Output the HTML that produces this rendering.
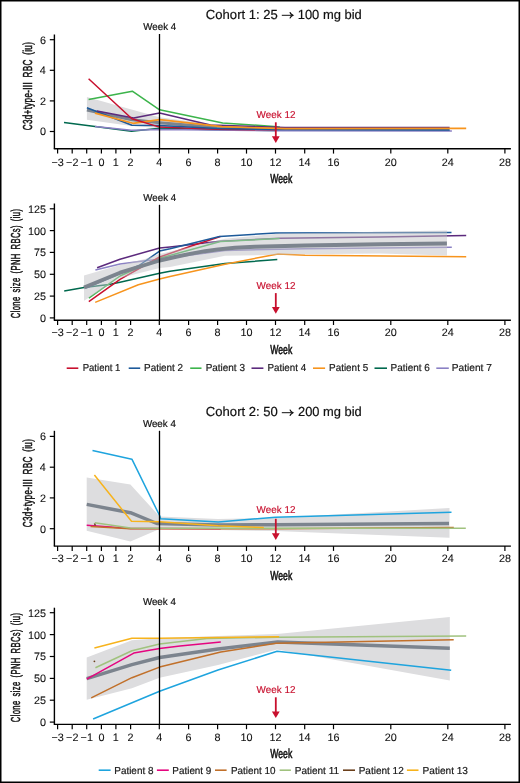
<!DOCTYPE html><html><head><meta charset="utf-8"><style>html,body{margin:0;padding:0;background:#fff;}svg{display:block;will-change:transform;}</style></head><body>
<svg width="520" height="783" viewBox="0 0 520 783" font-family='"Liberation Sans", sans-serif' text-rendering="geometricPrecision">
<rect x="0" y="0" width="520" height="783" fill="#fff"/>
<rect x="0.75" y="0.75" width="518.5" height="781.5" fill="none" stroke="#000" stroke-width="1.5"/>
<text transform="translate(205.86,18.60) scale(0.9923,1)" font-size="13.2" stroke="#111" stroke-width="0.2" fill="#111">Cohort 1: 25</text>
<line x1="281.8" y1="15.3" x2="293" y2="15.3" stroke="#111" stroke-width="1.0"/>
<path d="M289.9,12.200000000000001 Q290.6,14.100000000000001 292.9,15.3 Q290.6,16.5 289.9,18.400000000000002" fill="none" stroke="#111" stroke-width="1.25" stroke-linejoin="miter"/>
<text transform="translate(297.72,18.60) scale(0.9811,1)" font-size="13.2" stroke="#111" stroke-width="0.2" fill="#111">100 mg bid</text>
<polygon points="86.9,97.1 131.5,109.5 159.5,117.3 217.0,125.0 275.0,127.5 449.0,128.2 449.0,131.2 275.0,131.0 217.0,130.0 159.5,128.0 131.5,126.0 86.9,119.8" fill="#dddddf" fill-opacity="1" stroke="none"/>
<polyline points="86.9,110.0 132.0,119.8 159.6,122.7 217.0,127.5 275.0,129.2 449.0,129.6" fill="none" stroke="#7c848e" stroke-width="3.0" stroke-linejoin="round" stroke-linecap="butt" opacity="1"/>
<polyline points="64.0,122.5 95.0,126.5 131.5,131.3 159.6,128.2 217.0,129.8 275.0,130.6" fill="none" stroke="#00694e" stroke-width="1.5" stroke-linejoin="round" stroke-linecap="butt" opacity="1"/>
<polyline points="95.0,126.5 131.5,130.2 159.6,129.6 275.0,130.8 451.9,131.1" fill="none" stroke="#8a80c4" stroke-width="1.5" stroke-linejoin="round" stroke-linecap="butt" opacity="1"/>
<polyline points="159.6,127.1 217.0,129.3 275.0,129.8" fill="none" stroke="#c8102e" stroke-width="1.5" stroke-linejoin="round" stroke-linecap="butt" opacity="1"/>
<polyline points="86.9,107.8 131.9,125.2 159.6,125.6 217.0,128.6 275.0,129.6 449.8,129.9" fill="none" stroke="#1d5a9a" stroke-width="1.5" stroke-linejoin="round" stroke-linecap="butt" opacity="1"/>
<polyline points="88.6,99.4 132.3,91.2 159.6,109.8 222.7,122.9 274.2,126.5 280.0,127.2" fill="none" stroke="#3cb44b" stroke-width="1.5" stroke-linejoin="round" stroke-linecap="butt" opacity="1"/>
<polyline points="96.9,111.0 133.6,118.1 159.6,112.9 210.4,125.0 285.0,127.6 449.6,127.6" fill="none" stroke="#5c2a7d" stroke-width="1.5" stroke-linejoin="round" stroke-linecap="butt" opacity="1"/>
<polyline points="95.0,113.1 133.0,123.3 159.6,119.6 222.0,126.6 285.0,128.7 466.2,128.3" fill="none" stroke="#f7941d" stroke-width="1.7" stroke-linejoin="round" stroke-linecap="butt" opacity="1"/>
<polyline points="88.6,78.8 131.9,118.7 159.6,127.1" fill="none" stroke="#c8102e" stroke-width="1.5" stroke-linejoin="round" stroke-linecap="butt" opacity="1"/>
<line x1="54.4" y1="34.5" x2="54.4" y2="148.8" stroke="#000" stroke-width="1.4"/>
<line x1="49.8" y1="39.7" x2="54.4" y2="39.7" stroke="#000" stroke-width="1.2"/>
<text transform="translate(39.90,43.60) scale(1.0000,1)" font-size="10.8" stroke="#111" stroke-width="0.1" fill="#111">6</text>
<line x1="49.8" y1="70.3" x2="54.4" y2="70.3" stroke="#000" stroke-width="1.2"/>
<text transform="translate(39.65,74.20) scale(1.0000,1)" font-size="10.8" stroke="#111" stroke-width="0.1" fill="#111">4</text>
<line x1="49.8" y1="100.9" x2="54.4" y2="100.9" stroke="#000" stroke-width="1.2"/>
<text transform="translate(39.90,104.80) scale(1.0000,1)" font-size="10.8" stroke="#111" stroke-width="0.1" fill="#111">2</text>
<line x1="49.8" y1="131.5" x2="54.4" y2="131.5" stroke="#000" stroke-width="1.2"/>
<text transform="translate(39.90,135.40) scale(1.0000,1)" font-size="10.8" stroke="#111" stroke-width="0.1" fill="#111">0</text>
<text transform="translate(32.10,130.27) rotate(-90) scale(0.6251,1)" font-size="13" stroke="#111" stroke-width="0.5" letter-spacing="0.5" word-spacing="3.2" fill="#111">C3d+type-III RBC (iu)</text>
<line x1="53.8" y1="148.8" x2="510.9" y2="148.8" stroke="#000" stroke-width="1.4"/>
<line x1="57.6" y1="148.8" x2="57.6" y2="153.60000000000002" stroke="#000" stroke-width="1.2"/>
<text transform="translate(51.48,165.50) scale(1.0000,1)" font-size="10.8" stroke="#111" stroke-width="0.1" fill="#111">&#8722;3</text>
<line x1="72.2" y1="148.8" x2="72.2" y2="153.60000000000002" stroke="#000" stroke-width="1.2"/>
<text transform="translate(66.08,165.50) scale(1.0000,1)" font-size="10.8" stroke="#111" stroke-width="0.1" fill="#111">&#8722;2</text>
<line x1="86.7" y1="148.8" x2="86.7" y2="153.60000000000002" stroke="#000" stroke-width="1.2"/>
<text transform="translate(80.58,165.50) scale(1.0000,1)" font-size="10.8" stroke="#111" stroke-width="0.1" fill="#111">&#8722;1</text>
<line x1="101.4" y1="148.8" x2="101.4" y2="153.60000000000002" stroke="#000" stroke-width="1.2"/>
<text transform="translate(98.40,165.50) scale(1.0000,1)" font-size="10.8" stroke="#111" stroke-width="0.1" fill="#111">0</text>
<line x1="115.9" y1="148.8" x2="115.9" y2="153.60000000000002" stroke="#000" stroke-width="1.2"/>
<text transform="translate(112.78,165.50) scale(1.0000,1)" font-size="10.8" stroke="#111" stroke-width="0.1" fill="#111">1</text>
<line x1="130.6" y1="148.8" x2="130.6" y2="153.60000000000002" stroke="#000" stroke-width="1.2"/>
<text transform="translate(127.60,165.50) scale(1.0000,1)" font-size="10.8" stroke="#111" stroke-width="0.1" fill="#111">2</text>
<line x1="159.3" y1="148.8" x2="159.3" y2="153.60000000000002" stroke="#000" stroke-width="1.2"/>
<text transform="translate(156.30,165.50) scale(1.0000,1)" font-size="10.8" stroke="#111" stroke-width="0.1" fill="#111">4</text>
<line x1="188.6" y1="148.8" x2="188.6" y2="153.60000000000002" stroke="#000" stroke-width="1.2"/>
<text transform="translate(185.60,165.50) scale(1.0000,1)" font-size="10.8" stroke="#111" stroke-width="0.1" fill="#111">6</text>
<line x1="217.6" y1="148.8" x2="217.6" y2="153.60000000000002" stroke="#000" stroke-width="1.2"/>
<text transform="translate(214.60,165.50) scale(1.0000,1)" font-size="10.8" stroke="#111" stroke-width="0.1" fill="#111">8</text>
<line x1="246.5" y1="148.8" x2="246.5" y2="153.60000000000002" stroke="#000" stroke-width="1.2"/>
<text transform="translate(240.38,165.50) scale(1.0000,1)" font-size="10.8" stroke="#111" stroke-width="0.1" fill="#111">10</text>
<line x1="275.5" y1="148.8" x2="275.5" y2="153.60000000000002" stroke="#000" stroke-width="1.2"/>
<text transform="translate(269.38,165.50) scale(1.0000,1)" font-size="10.8" stroke="#111" stroke-width="0.1" fill="#111">12</text>
<line x1="304.7" y1="148.8" x2="304.7" y2="153.60000000000002" stroke="#000" stroke-width="1.2"/>
<text transform="translate(298.45,165.50) scale(1.0000,1)" font-size="10.8" stroke="#111" stroke-width="0.1" fill="#111">14</text>
<line x1="333.5" y1="148.8" x2="333.5" y2="153.60000000000002" stroke="#000" stroke-width="1.2"/>
<text transform="translate(327.38,165.50) scale(1.0000,1)" font-size="10.8" stroke="#111" stroke-width="0.1" fill="#111">16</text>
<line x1="390.8" y1="148.8" x2="390.8" y2="153.60000000000002" stroke="#000" stroke-width="1.2"/>
<text transform="translate(384.80,165.50) scale(1.0000,1)" font-size="10.8" stroke="#111" stroke-width="0.1" fill="#111">20</text>
<line x1="447.8" y1="148.8" x2="447.8" y2="153.60000000000002" stroke="#000" stroke-width="1.2"/>
<text transform="translate(441.68,165.50) scale(1.0000,1)" font-size="10.8" stroke="#111" stroke-width="0.1" fill="#111">24</text>
<line x1="504.9" y1="148.8" x2="504.9" y2="153.60000000000002" stroke="#000" stroke-width="1.2"/>
<text transform="translate(498.90,165.50) scale(1.0000,1)" font-size="10.8" stroke="#111" stroke-width="0.1" fill="#111">28</text>
<text transform="translate(270.33,183.30) scale(0.6626,1)" font-size="13" stroke="#111" stroke-width="0.6" fill="#111">Week</text>
<text transform="translate(143.30,30.30) scale(0.9731,1)" font-size="10" stroke="#111" stroke-width="0.2" fill="#111">Week 4</text>
<line x1="159.5" y1="34" x2="159.5" y2="148.8" stroke="#000" stroke-width="1.3"/>
<text transform="translate(256.60,117.70) scale(0.9884,1)" font-size="10" stroke="#c8102e" stroke-width="0.15" fill="#c8102e">Week 12</text>
<line x1="275.8" y1="122.3" x2="275.8" y2="137.2" stroke="#c8102e" stroke-width="1.8"/>
<polygon points="271.90000000000003,136.2 279.7,136.2 275.8,143.1" fill="#c8102e"/>
<polyline points="64.2,291.0 84.0,287.6 109.0,284.6 120.0,282.3 159.6,273.2 170.0,271.3 225.0,263.5 277.3,259.6" fill="none" stroke="#00694e" stroke-width="1.5" stroke-linejoin="round" stroke-linecap="butt" opacity="1"/>
<polyline points="95.2,302.4 138.3,284.7 159.6,279.0 170.0,276.5 225.0,264.2 278.1,253.9 305.0,255.3 466.2,256.8" fill="none" stroke="#f7941d" stroke-width="1.5" stroke-linejoin="round" stroke-linecap="butt" opacity="1"/>
<polyline points="95.4,270.0 120.0,264.0 145.0,260.7 159.6,259.3 225.0,250.4 305.0,248.8 451.8,247.3" fill="none" stroke="#8a80c4" stroke-width="1.5" stroke-linejoin="round" stroke-linecap="butt" opacity="1"/>
<polyline points="97.1,267.8 120.0,259.2 159.6,248.0 170.0,246.9 220.0,241.3 279.6,238.3 380.0,236.9 466.2,235.5" fill="none" stroke="#5c2a7d" stroke-width="1.5" stroke-linejoin="round" stroke-linecap="butt" opacity="1"/>
<polyline points="88.8,298.1 120.0,276.0 159.6,258.3 220.4,241.5 279.6,238.5" fill="none" stroke="#3cb44b" stroke-width="1.5" stroke-linejoin="round" stroke-linecap="butt" opacity="1"/>
<polyline points="88.8,301.7 120.0,279.4 159.6,257.0 190.0,246.5 220.4,236.5" fill="none" stroke="#c8102e" stroke-width="1.5" stroke-linejoin="round" stroke-linecap="butt" opacity="1"/>
<polyline points="86.0,288.0 139.0,265.5 159.6,251.1 170.0,248.8 219.6,236.5 275.8,233.0 451.5,232.5" fill="none" stroke="#1d5a9a" stroke-width="1.5" stroke-linejoin="round" stroke-linecap="butt" opacity="1"/>
<polygon points="84.0,275.5 120.0,265.0 145.0,259.0 159.6,254.0 225.0,238.8 280.0,233.6 447.0,230.6 447.0,255.5 380.0,253.5 305.0,254.2 225.0,255.8 170.0,266.9 159.6,267.9 120.0,278.0 84.0,300.8" fill="#c2c2c6" fill-opacity="0.5" stroke="none"/>
<polyline points="84.0,287.5 120.0,272.7 159.6,260.5 175.0,257.0 190.0,253.8 205.0,251.2 218.0,249.4 235.0,247.8 255.0,246.8 275.0,246.2 305.0,245.5 380.0,244.3 446.9,243.5" fill="none" stroke="#7c848e" stroke-width="3.9" stroke-linejoin="round" stroke-linecap="butt" opacity="1"/>
<line x1="54.4" y1="203.5" x2="54.4" y2="320.2" stroke="#000" stroke-width="1.4"/>
<line x1="49.8" y1="208.8" x2="54.4" y2="208.8" stroke="#000" stroke-width="1.2"/>
<text transform="translate(27.90,212.71) scale(1.0000,1)" font-size="10.8" stroke="#111" stroke-width="0.1" fill="#111">125</text>
<line x1="49.8" y1="230.6" x2="54.4" y2="230.6" stroke="#000" stroke-width="1.2"/>
<text transform="translate(27.90,234.53) scale(1.0000,1)" font-size="10.8" stroke="#111" stroke-width="0.1" fill="#111">100</text>
<line x1="49.8" y1="252.4" x2="54.4" y2="252.4" stroke="#000" stroke-width="1.2"/>
<text transform="translate(33.90,256.35) scale(1.0000,1)" font-size="10.8" stroke="#111" stroke-width="0.1" fill="#111">75</text>
<line x1="49.8" y1="274.3" x2="54.4" y2="274.3" stroke="#000" stroke-width="1.2"/>
<text transform="translate(33.90,278.16) scale(1.0000,1)" font-size="10.8" stroke="#111" stroke-width="0.1" fill="#111">50</text>
<line x1="49.8" y1="296.1" x2="54.4" y2="296.1" stroke="#000" stroke-width="1.2"/>
<text transform="translate(33.90,299.98) scale(1.0000,1)" font-size="10.8" stroke="#111" stroke-width="0.1" fill="#111">25</text>
<line x1="49.8" y1="317.9" x2="54.4" y2="317.9" stroke="#000" stroke-width="1.2"/>
<text transform="translate(39.90,321.80) scale(1.0000,1)" font-size="10.8" stroke="#111" stroke-width="0.1" fill="#111">0</text>
<text transform="translate(19.80,318.14) rotate(-90) scale(0.5872,1)" font-size="13" stroke="#111" stroke-width="0.5" letter-spacing="0.6" word-spacing="2.6" fill="#111">Clone size (PNH RBCs) (iu)</text>
<line x1="53.8" y1="320.2" x2="510.9" y2="320.2" stroke="#000" stroke-width="1.4"/>
<line x1="57.6" y1="320.2" x2="57.6" y2="325.0" stroke="#000" stroke-width="1.2"/>
<text transform="translate(51.48,336.30) scale(1.0000,1)" font-size="10.8" stroke="#111" stroke-width="0.1" fill="#111">&#8722;3</text>
<line x1="72.2" y1="320.2" x2="72.2" y2="325.0" stroke="#000" stroke-width="1.2"/>
<text transform="translate(66.08,336.30) scale(1.0000,1)" font-size="10.8" stroke="#111" stroke-width="0.1" fill="#111">&#8722;2</text>
<line x1="86.7" y1="320.2" x2="86.7" y2="325.0" stroke="#000" stroke-width="1.2"/>
<text transform="translate(80.58,336.30) scale(1.0000,1)" font-size="10.8" stroke="#111" stroke-width="0.1" fill="#111">&#8722;1</text>
<line x1="101.4" y1="320.2" x2="101.4" y2="325.0" stroke="#000" stroke-width="1.2"/>
<text transform="translate(98.40,336.30) scale(1.0000,1)" font-size="10.8" stroke="#111" stroke-width="0.1" fill="#111">0</text>
<line x1="115.9" y1="320.2" x2="115.9" y2="325.0" stroke="#000" stroke-width="1.2"/>
<text transform="translate(112.78,336.30) scale(1.0000,1)" font-size="10.8" stroke="#111" stroke-width="0.1" fill="#111">1</text>
<line x1="130.6" y1="320.2" x2="130.6" y2="325.0" stroke="#000" stroke-width="1.2"/>
<text transform="translate(127.60,336.30) scale(1.0000,1)" font-size="10.8" stroke="#111" stroke-width="0.1" fill="#111">2</text>
<line x1="159.3" y1="320.2" x2="159.3" y2="325.0" stroke="#000" stroke-width="1.2"/>
<text transform="translate(156.30,336.30) scale(1.0000,1)" font-size="10.8" stroke="#111" stroke-width="0.1" fill="#111">4</text>
<line x1="188.6" y1="320.2" x2="188.6" y2="325.0" stroke="#000" stroke-width="1.2"/>
<text transform="translate(185.60,336.30) scale(1.0000,1)" font-size="10.8" stroke="#111" stroke-width="0.1" fill="#111">6</text>
<line x1="217.6" y1="320.2" x2="217.6" y2="325.0" stroke="#000" stroke-width="1.2"/>
<text transform="translate(214.60,336.30) scale(1.0000,1)" font-size="10.8" stroke="#111" stroke-width="0.1" fill="#111">8</text>
<line x1="246.5" y1="320.2" x2="246.5" y2="325.0" stroke="#000" stroke-width="1.2"/>
<text transform="translate(240.38,336.30) scale(1.0000,1)" font-size="10.8" stroke="#111" stroke-width="0.1" fill="#111">10</text>
<line x1="275.5" y1="320.2" x2="275.5" y2="325.0" stroke="#000" stroke-width="1.2"/>
<text transform="translate(269.38,336.30) scale(1.0000,1)" font-size="10.8" stroke="#111" stroke-width="0.1" fill="#111">12</text>
<line x1="304.7" y1="320.2" x2="304.7" y2="325.0" stroke="#000" stroke-width="1.2"/>
<text transform="translate(298.45,336.30) scale(1.0000,1)" font-size="10.8" stroke="#111" stroke-width="0.1" fill="#111">14</text>
<line x1="333.5" y1="320.2" x2="333.5" y2="325.0" stroke="#000" stroke-width="1.2"/>
<text transform="translate(327.38,336.30) scale(1.0000,1)" font-size="10.8" stroke="#111" stroke-width="0.1" fill="#111">16</text>
<line x1="390.8" y1="320.2" x2="390.8" y2="325.0" stroke="#000" stroke-width="1.2"/>
<text transform="translate(384.80,336.30) scale(1.0000,1)" font-size="10.8" stroke="#111" stroke-width="0.1" fill="#111">20</text>
<line x1="447.8" y1="320.2" x2="447.8" y2="325.0" stroke="#000" stroke-width="1.2"/>
<text transform="translate(441.68,336.30) scale(1.0000,1)" font-size="10.8" stroke="#111" stroke-width="0.1" fill="#111">24</text>
<line x1="504.9" y1="320.2" x2="504.9" y2="325.0" stroke="#000" stroke-width="1.2"/>
<text transform="translate(498.90,336.30) scale(1.0000,1)" font-size="10.8" stroke="#111" stroke-width="0.1" fill="#111">28</text>
<text transform="translate(270.33,354.20) scale(0.6626,1)" font-size="13" stroke="#111" stroke-width="0.6" fill="#111">Week</text>
<text transform="translate(143.30,201.20) scale(0.9731,1)" font-size="10" stroke="#111" stroke-width="0.2" fill="#111">Week 4</text>
<line x1="159.5" y1="204.8" x2="159.5" y2="320.2" stroke="#000" stroke-width="1.3"/>
<text transform="translate(256.60,288.80) scale(0.9884,1)" font-size="10" stroke="#c8102e" stroke-width="0.15" fill="#c8102e">Week 12</text>
<line x1="275.8" y1="293.1" x2="275.8" y2="307.9" stroke="#c8102e" stroke-width="1.8"/>
<polygon points="271.90000000000003,306.9 279.7,306.9 275.8,313.8" fill="#c8102e"/>
<line x1="66.7" y1="368.2" x2="78.3" y2="368.2" stroke="#c8102e" stroke-width="1.6"/>
<text transform="translate(82.69,371.20) scale(0.9455,1)" font-size="10.1" stroke="#1a1a1a" stroke-width="0.2" fill="#1a1a1a">Patient 1</text>
<line x1="128.7" y1="368.2" x2="140.2" y2="368.2" stroke="#1d5a9a" stroke-width="1.6"/>
<text transform="translate(144.07,371.20) scale(0.9792,1)" font-size="10.1" stroke="#1a1a1a" stroke-width="0.2" fill="#1a1a1a">Patient 2</text>
<line x1="190.2" y1="368.2" x2="201.5" y2="368.2" stroke="#3cb44b" stroke-width="1.6"/>
<text transform="translate(205.66,371.20) scale(0.9858,1)" font-size="10.1" stroke="#1a1a1a" stroke-width="0.2" fill="#1a1a1a">Patient 3</text>
<line x1="251.5" y1="368.2" x2="263.4" y2="368.2" stroke="#5c2a7d" stroke-width="1.6"/>
<text transform="translate(267.47,371.20) scale(0.9703,1)" font-size="10.1" stroke="#1a1a1a" stroke-width="0.2" fill="#1a1a1a">Patient 4</text>
<line x1="313" y1="368.2" x2="325.1" y2="368.2" stroke="#f7941d" stroke-width="1.6"/>
<text transform="translate(329.06,371.20) scale(0.9806,1)" font-size="10.1" stroke="#1a1a1a" stroke-width="0.2" fill="#1a1a1a">Patient 5</text>
<line x1="374.5" y1="368.2" x2="387" y2="368.2" stroke="#00694e" stroke-width="1.6"/>
<text transform="translate(390.56,371.20) scale(0.9858,1)" font-size="10.1" stroke="#1a1a1a" stroke-width="0.2" fill="#1a1a1a">Patient 6</text>
<line x1="436.3" y1="368.2" x2="448.8" y2="368.2" stroke="#8a80c4" stroke-width="1.6"/>
<text transform="translate(451.74,371.20) scale(1.0078,1)" font-size="10.1" stroke="#1a1a1a" stroke-width="0.2" fill="#1a1a1a">Patient 7</text>
<text transform="translate(205.86,416.00) scale(0.9923,1)" font-size="13.2" stroke="#111" stroke-width="0.2" fill="#111">Cohort 2: 50</text>
<line x1="281.8" y1="412.7" x2="293" y2="412.7" stroke="#111" stroke-width="1.0"/>
<path d="M289.9,409.59999999999997 Q290.6,411.5 292.9,412.7 Q290.6,413.9 289.9,415.8" fill="none" stroke="#111" stroke-width="1.25" stroke-linejoin="miter"/>
<text transform="translate(297.97,416.00) scale(0.9773,1)" font-size="13.2" stroke="#111" stroke-width="0.2" fill="#111">200 mg bid</text>
<polygon points="86.7,477.5 130.4,484.6 159.6,516.5 218.0,519.0 275.0,518.0 449.5,508.0 449.5,537.7 275.0,531.0 218.0,530.0 159.6,529.0 130.4,541.5 86.7,530.8" fill="#dddddf" fill-opacity="1" stroke="none"/>
<polyline points="86.7,504.4 130.4,512.7 156.9,523.5 218.0,525.0 275.0,524.8 449.0,523.4" fill="none" stroke="#7c848e" stroke-width="3.5" stroke-linejoin="round" stroke-linecap="butt" opacity="1"/>
<polyline points="86.7,525.2 130.4,528.4 159.6,528.6 220.8,528.7" fill="none" stroke="#e5057f" stroke-width="1.5" stroke-linejoin="round" stroke-linecap="butt" opacity="1"/>
<polyline points="90.6,526.5 130.4,528.7 159.6,528.8 275.0,528.8 453.8,527.6" fill="none" stroke="#c1702a" stroke-width="1.5" stroke-linejoin="round" stroke-linecap="butt" opacity="1"/>
<polyline points="94.8,522.7 130.4,528.1 159.6,528.2 275.0,528.3 465.8,528.2" fill="none" stroke="#a0c27e" stroke-width="1.5" stroke-linejoin="round" stroke-linecap="butt" opacity="1"/>
<polyline points="94.4,523.5 95.5,525.5" fill="none" stroke="#6b3f1b" stroke-width="1.5" stroke-linejoin="round" stroke-linecap="butt" opacity="1"/>
<polyline points="94.4,475.0 131.5,521.3 159.6,521.7 218.0,525.8 263.8,527.5" fill="none" stroke="#f7b31c" stroke-width="1.5" stroke-linejoin="round" stroke-linecap="butt" opacity="1"/>
<polyline points="92.5,450.6 131.9,459.2 159.8,516.0 160.6,518.8 218.3,521.9 275.4,517.3 451.5,512.3" fill="none" stroke="#1ea4de" stroke-width="1.5" stroke-linejoin="round" stroke-linecap="butt" opacity="1"/>
<line x1="54.4" y1="430.8" x2="54.4" y2="546.2" stroke="#000" stroke-width="1.4"/>
<line x1="49.8" y1="436.4" x2="54.4" y2="436.4" stroke="#000" stroke-width="1.2"/>
<text transform="translate(39.90,440.30) scale(1.0000,1)" font-size="10.8" stroke="#111" stroke-width="0.1" fill="#111">6</text>
<line x1="49.8" y1="467.2" x2="54.4" y2="467.2" stroke="#000" stroke-width="1.2"/>
<text transform="translate(39.65,471.10) scale(1.0000,1)" font-size="10.8" stroke="#111" stroke-width="0.1" fill="#111">4</text>
<line x1="49.8" y1="497.9" x2="54.4" y2="497.9" stroke="#000" stroke-width="1.2"/>
<text transform="translate(39.90,501.80) scale(1.0000,1)" font-size="10.8" stroke="#111" stroke-width="0.1" fill="#111">2</text>
<line x1="49.8" y1="528.7" x2="54.4" y2="528.7" stroke="#000" stroke-width="1.2"/>
<text transform="translate(39.90,532.60) scale(1.0000,1)" font-size="10.8" stroke="#111" stroke-width="0.1" fill="#111">0</text>
<text transform="translate(32.30,527.27) rotate(-90) scale(0.6251,1)" font-size="13" stroke="#111" stroke-width="0.5" letter-spacing="0.5" word-spacing="3.2" fill="#111">C3d+type-III RBC (iu)</text>
<line x1="53.8" y1="546.1" x2="510.9" y2="546.1" stroke="#000" stroke-width="1.4"/>
<line x1="57.6" y1="546.1" x2="57.6" y2="550.9" stroke="#000" stroke-width="1.2"/>
<text transform="translate(51.48,562.30) scale(1.0000,1)" font-size="10.8" stroke="#111" stroke-width="0.1" fill="#111">&#8722;3</text>
<line x1="72.2" y1="546.1" x2="72.2" y2="550.9" stroke="#000" stroke-width="1.2"/>
<text transform="translate(66.08,562.30) scale(1.0000,1)" font-size="10.8" stroke="#111" stroke-width="0.1" fill="#111">&#8722;2</text>
<line x1="86.7" y1="546.1" x2="86.7" y2="550.9" stroke="#000" stroke-width="1.2"/>
<text transform="translate(80.58,562.30) scale(1.0000,1)" font-size="10.8" stroke="#111" stroke-width="0.1" fill="#111">&#8722;1</text>
<line x1="101.4" y1="546.1" x2="101.4" y2="550.9" stroke="#000" stroke-width="1.2"/>
<text transform="translate(98.40,562.30) scale(1.0000,1)" font-size="10.8" stroke="#111" stroke-width="0.1" fill="#111">0</text>
<line x1="115.9" y1="546.1" x2="115.9" y2="550.9" stroke="#000" stroke-width="1.2"/>
<text transform="translate(112.78,562.30) scale(1.0000,1)" font-size="10.8" stroke="#111" stroke-width="0.1" fill="#111">1</text>
<line x1="130.6" y1="546.1" x2="130.6" y2="550.9" stroke="#000" stroke-width="1.2"/>
<text transform="translate(127.60,562.30) scale(1.0000,1)" font-size="10.8" stroke="#111" stroke-width="0.1" fill="#111">2</text>
<line x1="159.3" y1="546.1" x2="159.3" y2="550.9" stroke="#000" stroke-width="1.2"/>
<text transform="translate(156.30,562.30) scale(1.0000,1)" font-size="10.8" stroke="#111" stroke-width="0.1" fill="#111">4</text>
<line x1="188.6" y1="546.1" x2="188.6" y2="550.9" stroke="#000" stroke-width="1.2"/>
<text transform="translate(185.60,562.30) scale(1.0000,1)" font-size="10.8" stroke="#111" stroke-width="0.1" fill="#111">6</text>
<line x1="217.6" y1="546.1" x2="217.6" y2="550.9" stroke="#000" stroke-width="1.2"/>
<text transform="translate(214.60,562.30) scale(1.0000,1)" font-size="10.8" stroke="#111" stroke-width="0.1" fill="#111">8</text>
<line x1="246.5" y1="546.1" x2="246.5" y2="550.9" stroke="#000" stroke-width="1.2"/>
<text transform="translate(240.38,562.30) scale(1.0000,1)" font-size="10.8" stroke="#111" stroke-width="0.1" fill="#111">10</text>
<line x1="275.5" y1="546.1" x2="275.5" y2="550.9" stroke="#000" stroke-width="1.2"/>
<text transform="translate(269.38,562.30) scale(1.0000,1)" font-size="10.8" stroke="#111" stroke-width="0.1" fill="#111">12</text>
<line x1="304.7" y1="546.1" x2="304.7" y2="550.9" stroke="#000" stroke-width="1.2"/>
<text transform="translate(298.45,562.30) scale(1.0000,1)" font-size="10.8" stroke="#111" stroke-width="0.1" fill="#111">14</text>
<line x1="333.5" y1="546.1" x2="333.5" y2="550.9" stroke="#000" stroke-width="1.2"/>
<text transform="translate(327.38,562.30) scale(1.0000,1)" font-size="10.8" stroke="#111" stroke-width="0.1" fill="#111">16</text>
<line x1="390.8" y1="546.1" x2="390.8" y2="550.9" stroke="#000" stroke-width="1.2"/>
<text transform="translate(384.80,562.30) scale(1.0000,1)" font-size="10.8" stroke="#111" stroke-width="0.1" fill="#111">20</text>
<line x1="447.8" y1="546.1" x2="447.8" y2="550.9" stroke="#000" stroke-width="1.2"/>
<text transform="translate(441.68,562.30) scale(1.0000,1)" font-size="10.8" stroke="#111" stroke-width="0.1" fill="#111">24</text>
<line x1="504.9" y1="546.1" x2="504.9" y2="550.9" stroke="#000" stroke-width="1.2"/>
<text transform="translate(498.90,562.30) scale(1.0000,1)" font-size="10.8" stroke="#111" stroke-width="0.1" fill="#111">28</text>
<text transform="translate(270.33,579.90) scale(0.6626,1)" font-size="13" stroke="#111" stroke-width="0.6" fill="#111">Week</text>
<text transform="translate(142.90,427.10) scale(0.9761,1)" font-size="10" stroke="#111" stroke-width="0.2" fill="#111">Week 4</text>
<line x1="159.5" y1="430.8" x2="159.5" y2="546.1" stroke="#000" stroke-width="1.3"/>
<text transform="translate(256.60,513.20) scale(0.9884,1)" font-size="10" stroke="#c8102e" stroke-width="0.15" fill="#c8102e">Week 12</text>
<line x1="275.8" y1="518.8" x2="275.8" y2="534.2" stroke="#c8102e" stroke-width="1.8"/>
<polygon points="271.90000000000003,533.2 279.7,533.2 275.8,539.9" fill="#c8102e"/>
<polygon points="86.7,657.5 131.9,640.2 159.6,638.3 218.0,636.0 277.0,634.0 449.8,616.9 449.8,680.6 277.0,649.5 218.0,665.0 159.6,677.7 131.9,688.3 86.7,699.8" fill="#dddddf" fill-opacity="1" stroke="none"/>
<polyline points="86.7,678.7 131.9,664.6 159.6,657.5 218.0,649.0 277.7,642.1 449.8,648.3" fill="none" stroke="#7c848e" stroke-width="3.5" stroke-linejoin="round" stroke-linecap="butt" opacity="1"/>
<polyline points="93.1,719.0 159.6,691.2 218.0,670.0 277.1,651.3 451.2,670.2" fill="none" stroke="#1ea4de" stroke-width="1.5" stroke-linejoin="round" stroke-linecap="butt" opacity="1"/>
<polyline points="91.2,697.9 131.9,677.7 159.6,667.1 220.8,651.9 276.2,643.3 453.7,639.7" fill="none" stroke="#c1702a" stroke-width="1.5" stroke-linejoin="round" stroke-linecap="butt" opacity="1"/>
<polyline points="95.4,667.7 131.9,650.8 159.6,644.0 206.9,638.5 277.0,637.2 466.2,636.0" fill="none" stroke="#a0c27e" stroke-width="1.5" stroke-linejoin="round" stroke-linecap="butt" opacity="1"/>
<polyline points="94.4,647.9 131.9,638.3 159.6,638.3 279.2,636.8" fill="none" stroke="#f7b31c" stroke-width="1.5" stroke-linejoin="round" stroke-linecap="butt" opacity="1"/>
<polyline points="86.7,679.2 133.8,653.1 159.6,648.5 180.0,646.0 220.8,642.1" fill="none" stroke="#e5057f" stroke-width="1.5" stroke-linejoin="round" stroke-linecap="butt" opacity="1"/>
<circle cx="94.4" cy="661.3" r="0.9" fill="#6b3f1b"/>
<line x1="54.4" y1="607.7" x2="54.4" y2="724.4" stroke="#000" stroke-width="1.4"/>
<line x1="49.8" y1="612.7" x2="54.4" y2="612.7" stroke="#000" stroke-width="1.2"/>
<text transform="translate(27.90,616.62) scale(1.0000,1)" font-size="10.8" stroke="#111" stroke-width="0.1" fill="#111">125</text>
<line x1="49.8" y1="634.6" x2="54.4" y2="634.6" stroke="#000" stroke-width="1.2"/>
<text transform="translate(27.90,638.50) scale(1.0000,1)" font-size="10.8" stroke="#111" stroke-width="0.1" fill="#111">100</text>
<line x1="49.8" y1="656.5" x2="54.4" y2="656.5" stroke="#000" stroke-width="1.2"/>
<text transform="translate(33.90,660.38) scale(1.0000,1)" font-size="10.8" stroke="#111" stroke-width="0.1" fill="#111">75</text>
<line x1="49.8" y1="678.4" x2="54.4" y2="678.4" stroke="#000" stroke-width="1.2"/>
<text transform="translate(33.90,682.25) scale(1.0000,1)" font-size="10.8" stroke="#111" stroke-width="0.1" fill="#111">50</text>
<line x1="49.8" y1="700.2" x2="54.4" y2="700.2" stroke="#000" stroke-width="1.2"/>
<text transform="translate(33.90,704.12) scale(1.0000,1)" font-size="10.8" stroke="#111" stroke-width="0.1" fill="#111">25</text>
<line x1="49.8" y1="722.1" x2="54.4" y2="722.1" stroke="#000" stroke-width="1.2"/>
<text transform="translate(39.90,726.00) scale(1.0000,1)" font-size="10.8" stroke="#111" stroke-width="0.1" fill="#111">0</text>
<text transform="translate(19.80,722.14) rotate(-90) scale(0.5872,1)" font-size="13" stroke="#111" stroke-width="0.5" letter-spacing="0.6" word-spacing="2.6" fill="#111">Clone size (PNH RBCs) (iu)</text>
<line x1="53.8" y1="724.4" x2="510.9" y2="724.4" stroke="#000" stroke-width="1.4"/>
<line x1="57.6" y1="724.4" x2="57.6" y2="729.1999999999999" stroke="#000" stroke-width="1.2"/>
<text transform="translate(51.48,740.60) scale(1.0000,1)" font-size="10.8" stroke="#111" stroke-width="0.1" fill="#111">&#8722;3</text>
<line x1="72.2" y1="724.4" x2="72.2" y2="729.1999999999999" stroke="#000" stroke-width="1.2"/>
<text transform="translate(66.08,740.60) scale(1.0000,1)" font-size="10.8" stroke="#111" stroke-width="0.1" fill="#111">&#8722;2</text>
<line x1="86.7" y1="724.4" x2="86.7" y2="729.1999999999999" stroke="#000" stroke-width="1.2"/>
<text transform="translate(80.58,740.60) scale(1.0000,1)" font-size="10.8" stroke="#111" stroke-width="0.1" fill="#111">&#8722;1</text>
<line x1="101.4" y1="724.4" x2="101.4" y2="729.1999999999999" stroke="#000" stroke-width="1.2"/>
<text transform="translate(98.40,740.60) scale(1.0000,1)" font-size="10.8" stroke="#111" stroke-width="0.1" fill="#111">0</text>
<line x1="115.9" y1="724.4" x2="115.9" y2="729.1999999999999" stroke="#000" stroke-width="1.2"/>
<text transform="translate(112.78,740.60) scale(1.0000,1)" font-size="10.8" stroke="#111" stroke-width="0.1" fill="#111">1</text>
<line x1="130.6" y1="724.4" x2="130.6" y2="729.1999999999999" stroke="#000" stroke-width="1.2"/>
<text transform="translate(127.60,740.60) scale(1.0000,1)" font-size="10.8" stroke="#111" stroke-width="0.1" fill="#111">2</text>
<line x1="159.3" y1="724.4" x2="159.3" y2="729.1999999999999" stroke="#000" stroke-width="1.2"/>
<text transform="translate(156.30,740.60) scale(1.0000,1)" font-size="10.8" stroke="#111" stroke-width="0.1" fill="#111">4</text>
<line x1="188.6" y1="724.4" x2="188.6" y2="729.1999999999999" stroke="#000" stroke-width="1.2"/>
<text transform="translate(185.60,740.60) scale(1.0000,1)" font-size="10.8" stroke="#111" stroke-width="0.1" fill="#111">6</text>
<line x1="217.6" y1="724.4" x2="217.6" y2="729.1999999999999" stroke="#000" stroke-width="1.2"/>
<text transform="translate(214.60,740.60) scale(1.0000,1)" font-size="10.8" stroke="#111" stroke-width="0.1" fill="#111">8</text>
<line x1="246.5" y1="724.4" x2="246.5" y2="729.1999999999999" stroke="#000" stroke-width="1.2"/>
<text transform="translate(240.38,740.60) scale(1.0000,1)" font-size="10.8" stroke="#111" stroke-width="0.1" fill="#111">10</text>
<line x1="275.5" y1="724.4" x2="275.5" y2="729.1999999999999" stroke="#000" stroke-width="1.2"/>
<text transform="translate(269.38,740.60) scale(1.0000,1)" font-size="10.8" stroke="#111" stroke-width="0.1" fill="#111">12</text>
<line x1="304.7" y1="724.4" x2="304.7" y2="729.1999999999999" stroke="#000" stroke-width="1.2"/>
<text transform="translate(298.45,740.60) scale(1.0000,1)" font-size="10.8" stroke="#111" stroke-width="0.1" fill="#111">14</text>
<line x1="333.5" y1="724.4" x2="333.5" y2="729.1999999999999" stroke="#000" stroke-width="1.2"/>
<text transform="translate(327.38,740.60) scale(1.0000,1)" font-size="10.8" stroke="#111" stroke-width="0.1" fill="#111">16</text>
<line x1="390.8" y1="724.4" x2="390.8" y2="729.1999999999999" stroke="#000" stroke-width="1.2"/>
<text transform="translate(384.80,740.60) scale(1.0000,1)" font-size="10.8" stroke="#111" stroke-width="0.1" fill="#111">20</text>
<line x1="447.8" y1="724.4" x2="447.8" y2="729.1999999999999" stroke="#000" stroke-width="1.2"/>
<text transform="translate(441.68,740.60) scale(1.0000,1)" font-size="10.8" stroke="#111" stroke-width="0.1" fill="#111">24</text>
<line x1="504.9" y1="724.4" x2="504.9" y2="729.1999999999999" stroke="#000" stroke-width="1.2"/>
<text transform="translate(498.90,740.60) scale(1.0000,1)" font-size="10.8" stroke="#111" stroke-width="0.1" fill="#111">28</text>
<text transform="translate(270.33,758.30) scale(0.6626,1)" font-size="13" stroke="#111" stroke-width="0.6" fill="#111">Week</text>
<text transform="translate(142.90,605.30) scale(0.9761,1)" font-size="10" stroke="#111" stroke-width="0.2" fill="#111">Week 4</text>
<line x1="159.5" y1="609" x2="159.5" y2="724.4" stroke="#000" stroke-width="1.3"/>
<text transform="translate(256.60,693.00) scale(0.9884,1)" font-size="10" stroke="#c8102e" stroke-width="0.15" fill="#c8102e">Week 12</text>
<line x1="275.8" y1="697.3" x2="275.8" y2="712.6" stroke="#c8102e" stroke-width="1.8"/>
<polygon points="271.90000000000003,711.6 279.7,711.6 275.8,718.1" fill="#c8102e"/>
<line x1="98.7" y1="770.2" x2="110.6" y2="770.2" stroke="#1ea4de" stroke-width="1.6"/>
<text transform="translate(114.26,773.50) scale(0.9832,1)" font-size="10.1" stroke="#1a1a1a" stroke-width="0.2" fill="#1a1a1a">Patient 8</text>
<line x1="156.9" y1="770.2" x2="168.8" y2="770.2" stroke="#e5057f" stroke-width="1.6"/>
<text transform="translate(172.37,773.50) scale(0.9781,1)" font-size="10.1" stroke="#1a1a1a" stroke-width="0.2" fill="#1a1a1a">Patient 9</text>
<line x1="215" y1="770.2" x2="226.6" y2="770.2" stroke="#c1702a" stroke-width="1.6"/>
<text transform="translate(230.97,773.50) scale(0.9785,1)" font-size="10.1" stroke="#1a1a1a" stroke-width="0.2" fill="#1a1a1a">Patient 10</text>
<line x1="279.6" y1="770.2" x2="290.9" y2="770.2" stroke="#a0c27e" stroke-width="1.6"/>
<text transform="translate(294.76,773.50) scale(0.9908,1)" font-size="10.1" stroke="#1a1a1a" stroke-width="0.2" fill="#1a1a1a">Patient 11</text>
<line x1="343" y1="770.2" x2="355" y2="770.2" stroke="#6b3f1b" stroke-width="1.6"/>
<text transform="translate(358.66,773.50) scale(0.9921,1)" font-size="10.1" stroke="#1a1a1a" stroke-width="0.2" fill="#1a1a1a">Patient 12</text>
<line x1="406.9" y1="770.2" x2="418.5" y2="770.2" stroke="#f7b31c" stroke-width="1.6"/>
<text transform="translate(422.55,773.50) scale(0.9989,1)" font-size="10.1" stroke="#1a1a1a" stroke-width="0.2" fill="#1a1a1a">Patient 13</text>
</svg></body></html>
